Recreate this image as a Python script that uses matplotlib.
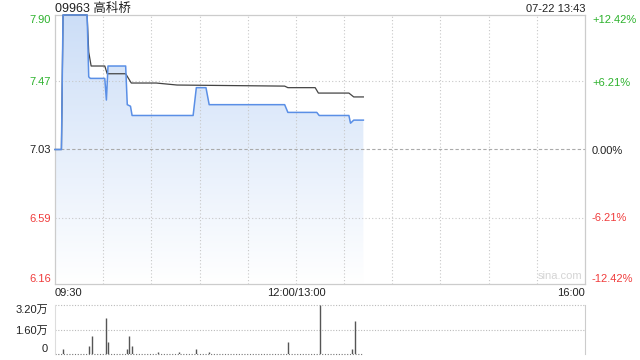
import numpy as np
import matplotlib
matplotlib.use('Agg')
import matplotlib.pyplot as plt

plt.rcParams['font.family'] = ['Liberation Sans', 'Noto Sans CJK SC', 'DejaVu Sans']

# minutes since 09:30 (13:00 restarts at minute 150)
price_t = [0, 4, 5, 20, 21, 22, 31, 32, 33, 44, 45, 47, 48, 86, 88, 94, 96, 143, 145, 163, 164.5, 183, 184, 186, 192]
price = [7.03, 7.03, 7.90, 7.90, 7.50, 7.49, 7.49, 7.35, 7.57, 7.57, 7.32, 7.31, 7.25, 7.25, 7.43, 7.43, 7.32, 7.32,
         7.27, 7.27, 7.25, 7.25, 7.20, 7.22, 7.22]

avg_t = [0, 4, 5, 20, 21, 22.5, 31, 32.5, 44, 47.5, 63, 76, 143, 145, 162, 164, 183, 186, 192]
avg = [7.03, 7.03, 7.90, 7.90, 7.66, 7.57, 7.57, 7.52, 7.52, 7.46, 7.46, 7.447, 7.44, 7.43, 7.43, 7.395, 7.395,
       7.37, 7.37]

vol_t = [5, 21, 23, 32, 33, 45, 46, 48, 64, 77, 88, 96, 145, 165, 185, 187]
vol = [3200, 5400, 11900, 23600, 7600, 3200, 11900, 5400, 1500, 1500, 3500, 1500, 7600, 32000, 3500, 21600]

prev_close = 7.03
left_ticks = [6.16, 6.59, 7.03, 7.47, 7.90]
left_labels = ['6.16', '6.59', '7.03', '7.47', '7.90']
right_ticks = [-12.42, -6.21, 0.0, 6.21, 12.42]
right_labels = ['-12.42%', '-6.21%', '0.00%', '+6.21%', '+12.42%']
tick_colors = ['#f03c3c', '#f03c3c', '#222222', '#2db22d', '#2db22d']
x_ticks = [0, 150, 330]
x_labels = ['09:30', '12:00/13:00', '16:00']
vol_ticks = [0, 16000, 32000]
vol_labels = ['0', '1.60万', '3.20万']

fig = plt.figure(figsize=(6.4, 3.6), dpi=100)
ax = fig.add_axes([55 / 640, 1 - 284 / 360, 530 / 640, 269 / 360])
axv = fig.add_axes([55 / 640, 1 - 354 / 360, 530 / 640, 49 / 360])

ymin, ymax = 6.16, 7.90
ax.set_xlim(0, 330)
ax.set_ylim(ymin, ymax)

# gradient fill under price line
grad = np.linspace(0, 1, 256).reshape(-1, 1)
top_c = np.array([0.80, 0.87, 0.97])
bot_c = np.array([1.0, 1.0, 1.0])
img = bot_c + (top_c - bot_c) * grad
img = img.reshape(256, 1, 3)
im = ax.imshow(img, extent=[price_t[0], price_t[-1], ymin, ymax], origin='lower', aspect='auto', zorder=1)
poly = ax.fill_between(price_t, price, ymin, color='none', lw=0)
im.set_clip_path(poly.get_paths()[0], transform=ax.transData)

ax.plot(price_t, price, color='#5a8fe6', lw=1.1, zorder=4, clip_on=False)
ax.plot(avg_t, avg, color='#444444', lw=0.9, zorder=3, clip_on=False)

# grid
for t in range(30, 330, 30):
    ax.axvline(t, color='#c8c8c8', lw=0.8, ls=(0, (1, 2)), zorder=2)
for v in [6.59, 7.47]:
    ax.axhline(v, color='#c8c8c8', lw=0.8, ls=(0, (1, 2)), zorder=2)
ax.axhline(prev_close, color='#aaaaaa', lw=0.8, ls=(0, (3, 2)), zorder=2)

ax.set_yticks(left_ticks)
ax.set_yticklabels(left_labels)
for lab, c in zip(ax.get_yticklabels(), tick_colors):
    lab.set_color(c)
ax.get_yticklabels()[0].set_va('bottom')
ax.get_yticklabels()[-1].set_va('top')
ax.tick_params(axis='y', length=0, pad=3, labelsize=8)

ax.set_xticks(x_ticks)
ax.set_xticklabels(x_labels)
ax.tick_params(axis='x', length=0, pad=3, labelsize=8, labelcolor='#222222')
xl = ax.get_xticklabels()
xl[0].set_ha('left')
xl[2].set_ha('right')

for s in ax.spines.values():
    s.set_color('#cccccc')
    s.set_linewidth(0.9)

axr = ax.twinx()
axr.set_ylim((ymin / prev_close - 1) * 100, (ymax / prev_close - 1) * 100)
axr.set_yticks(right_ticks)
axr.set_yticklabels(right_labels)
for lab, c in zip(axr.get_yticklabels(), tick_colors):
    lab.set_color(c)
axr.get_yticklabels()[0].set_va('bottom')
axr.get_yticklabels()[-1].set_va('top')
axr.tick_params(axis='y', length=0, pad=5, labelsize=8)
for s in axr.spines.values():
    s.set_visible(False)

ax.text(0, 1.011, '09963 高科桥', transform=ax.transAxes, fontsize=9, color='#222222', ha='left', va='baseline')
ax.text(1, 1.011, '07-22 13:43', transform=ax.transAxes, fontsize=8, color='#222222', ha='right', va='baseline')
ax.text(0.995, 0.01, 'sina.com', transform=ax.transAxes, fontsize=8, color='#d4d4d4', ha='right', va='bottom')

# volume panel
axv.set_xlim(0, 330)
axv.set_ylim(0, 32000)
axv.vlines(vol_t, 0, vol, color='#555555', lw=1.0, zorder=3)
axv.plot([price_t[0], price_t[-1]], [0, 0], color='#777777', lw=0.8, ls=(0, (1, 1.5)), zorder=2, clip_on=False)
for v in [16000, 32000]:
    axv.axhline(v, color='#bbbbbb', lw=0.8, ls=(0, (1, 1.5)), zorder=1, clip_on=False)
axv.set_yticks(vol_ticks)
axv.set_yticklabels(vol_labels)
axv.get_yticklabels()[0].set_va('bottom')
axv.get_yticklabels()[-1].set_va('top')
axv.tick_params(axis='y', length=0, pad=5, labelsize=8, labelcolor='#222222')
axv.set_xticks([])
for k in ['top', 'bottom']:
    axv.spines[k].set_visible(False)
axv.spines['left'].set_color('#dddddd')
axv.spines['right'].set_color('#cccccc')

fig.savefig('out.png', dpi=100)
